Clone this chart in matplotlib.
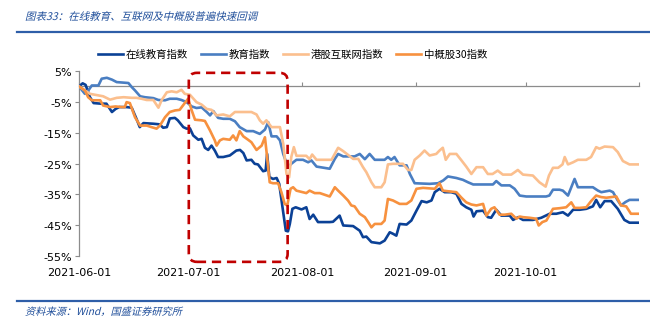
import numpy as np
import matplotlib
matplotlib.use("Agg")
from matplotlib import pyplot as plt
import matplotlib.dates as mdates
from matplotlib.patches import FancyBboxPatch, PathPatch
from matplotlib.lines import Line2D
from matplotlib.textpath import TextPath
from matplotlib.font_manager import FontProperties
from matplotlib.transforms import Affine2D, ScaledTranslation

plt.rcParams["font.family"] = ["DejaVu Sans", "Noto Sans CJK SC"]

# days since 2021-06-01 / index change in %
online_edu_days = [0, 1, 1.8, 3, 4, 6, 7.5, 9, 10, 11, 13, 14.4, 15.7, 16.6, 17.6, 20.3, 22, 23, 24, 24.8,
				   26.2, 27, 28.5, 29.4, 30.3, 31.2, 32.6, 33.5, 34.4, 35.3, 36.2, 37.1, 38, 39.4, 41.2, 43, 44,
				   44.9, 45.8, 47.1, 48, 48.9, 50.3, 51, 51.4, 52, 53, 54, 54.7, 55.6, 56.5, 57.1, 57.6, 58.3,
				   59.2, 60.8, 62.1, 63, 64, 65.3, 68.5, 69.4, 71.2, 72.2, 74.9, 76.7, 77.6, 78.5, 79.9, 82.2,
				   83.5, 84.9, 85.8, 86.7, 87.6, 89.5, 90.8, 92.2, 93.6, 95, 96.3, 97.2, 98.5, 99.9, 101.7, 103.1,
				   104.5, 105.8, 107.2, 107.8, 108.6, 110.4, 111.7, 112.6, 114, 115.4, 117.7, 118.6, 120, 121.3,
				   124, 126.3, 128.6, 130.4, 132.2, 133.6, 135, 136.8, 138.6, 140.4, 141.3, 142.4, 143.6, 145.4,
				   147.2, 149, 150.4, 152.7]
online_edu_vals = [0, 1, 0.5, -3.5, -5.4, -5.6, -5.6, -8.3, -7.3, -6.7, -6.7, -6.9, -10.5, -13.2, -11.9, -12.1,
				   -12.3, -13.4, -13.2, -10.4, -10.2, -11, -13.2, -13.7, -13.6, -15.9, -17.3, -17, -19.9, -20.6,
				   -19.2, -20.8, -22.9, -22.9, -22.4, -20.8, -20.6, -21.6, -24, -23.8, -25.1, -25.3, -27.5, -27.3,
				   -21.9, -29.4, -30, -29.7, -31.6, -39.2, -46.8, -47, -44.6, -39.7, -39.2, -39.9, -39.2, -43,
				   -41.6, -44, -44, -43.9, -41.9, -45.1, -45.3, -46.8, -48.9, -48.7, -50.5, -50.9, -50, -47.3,
				   -47.8, -48.4, -44.6, -44.8, -43.5, -40.3, -37.2, -37.6, -37, -34.3, -33.2, -34.3, -34.3, -34.8,
				   -38.1, -39.2, -40, -42.2, -40.5, -40.3, -42.4, -42.6, -40, -41.9, -41.9, -43.3, -42.4, -43.3,
				   -43.3, -42.6, -41.3, -41.3, -40.8, -41.9, -40, -40, -39.7, -38.9, -36.8, -39.2, -37.2, -37.2,
				   -39.7, -43.3, -44.2, -44.2]

edu_days = [0, 1.6, 2.5, 3.5, 5.3, 6.2, 7.6, 9, 10.3, 13.5, 14.4, 15.3, 16.7, 18, 20.3, 21.7, 23.5, 24.8, 26.7,
			28, 29.4, 30.8, 32.1, 33.5, 34.9, 35.8, 36.7, 38, 39.4, 41.2, 42.6, 43.9, 45.8, 47.6, 49.4, 50.8,
			51.7, 52.6, 54, 54.9, 55.8, 57.1, 58, 59.4, 61.2, 62.6, 63.5, 64.9, 68.5, 69.9, 70.8, 72.2, 75.3,
			76.7, 78.1, 79.4, 80.8, 83.5, 84.4, 85.3, 86.2, 87.6, 89.5, 90.4, 91.7, 95.8, 98.1, 99.5, 100.8,
			103.1, 104.9, 106.3, 107.7, 113.1, 114, 115.4, 117.7, 119, 120.4, 122.2, 127.6, 128.5, 129.5, 131.3,
			132.2, 133.6, 134.5, 135.4, 136.3, 138.6, 140.4, 141.8, 142.7, 145, 145.9, 147.2, 148.1, 149.3,
			150.4, 152.7]
edu_vals = [0, -2.4, -1.4, 0.3, 0.3, 2.5, 2.8, 2.2, 1.4, 1.1, -0.2, -1.3, -3.2, -3.5, -3.8, -4.4, -4.5, -4,
			-4, -4.4, -5.1, -6.5, -7, -6.8, -8.3, -9.4, -8, -10.2, -10.5, -10.5, -11.3, -13.2, -14.5, -14.5,
			-15.4, -14, -11.6, -16.2, -16.2, -17.5, -21.9, -26.2, -25.1, -23.8, -23.8, -24.6, -24, -26, -26.7,
			-23.5, -21.9, -22.7, -22.7, -21.9, -23.6, -21.9, -23.8, -23.8, -22.9, -23.8, -22.9, -25.6, -25.6,
			-28.4, -31.4, -31.6, -31.4, -30.5, -29.2, -29.7, -30.3, -31.1, -31.8, -31.8, -30.7, -32.1, -32.1,
			-33.2, -35.4, -35.7, -35.7, -35.4, -33.5, -33.5, -33.8, -35.4, -32.7, -30, -32.7, -32.7, -32.7,
			-33.8, -34.3, -33.8, -34.3, -37, -38.6, -37.5, -36.8, -36.8]

hk_net_days = [0, 1.6, 3, 4.8, 6.6, 8.5, 10.3, 12.2, 14.4, 15.7, 17.1, 18.5, 20.3, 21.7, 22.6, 24, 25.3, 26.7,
			   28, 28.9, 30.3, 32.1, 33.5, 34.9, 36.2, 37.6, 39.4, 41.2, 42.6, 44.9, 47.1, 48.5, 49.4, 50.3,
			   51.2, 52.6, 54, 54.9, 55.8, 56.7, 57.4, 58, 58.7, 59.4, 60.8, 62.1, 63, 63.7, 64.9, 69, 70.8,
			   72.2, 74.9, 76.3, 77.6, 78.5, 79.9, 80.8, 82.6, 83.5, 84.4, 85.8, 88.5, 89.9, 90.8, 91.7, 93.1,
			   94.4, 95.8, 97.6, 98.5, 99.4, 100.2, 101.3, 103.1, 104.5, 105.8, 107.2, 108.6, 110.4, 111.7, 113,
			   114.4, 115.8, 118.1, 119.9, 121.3, 124, 125.8, 127.5, 128.4, 129.5, 130.9, 132.1, 132.7, 133.6,
			   135, 136.3, 138.6, 139.9, 141.3, 142.2, 143.6, 145.9, 147.2, 148.6, 150.4, 152.7]
hk_net_vals = [0, -1.3, -2.4, -2.8, -3.2, -4.3, -3.7, -3.5, -3.7, -3.7, -4, -4.4, -4.4, -6.9, -4.4, -1.9,
			   -1.6, -1.9, -1.1, -2.4, -2.7, -5.1, -5.9, -7.3, -7.6, -9.4, -9.1, -9.7, -8.3, -8.3, -8.3, -9.1,
			   -11, -12.1, -11, -13.2, -13.2, -13.2, -18.6, -28.4, -29.5, -22.9, -19.7, -22.5, -22.5, -22.5,
			   -23.6, -22.1, -23.8, -23.8, -19.9, -21, -23.5, -23.5, -26.2, -27.8, -31.1, -32.7, -32.7, -31.1,
			   -25.3, -25.1, -25.1, -27.1, -27.1, -23.8, -22.4, -20.8, -22.4, -21.9, -20.8, -19.9, -23.8, -21.9,
			   -21.9, -24, -26, -28.4, -26.2, -26.2, -28.4, -28.4, -27.3, -28.6, -28.6, -27.1, -28.6, -28.9,
			   -31.1, -32.5, -28.9, -26.4, -26.4, -25.3, -22.9, -25.3, -24.6, -23.8, -23.8, -22.9, -19.7, -20.2,
			   -19.5, -19.7, -21.3, -24.2, -25.3, -25.3]

china30_days = [0, 1.6, 2.5, 3.5, 5.8, 6.6, 8.5, 10, 11.6, 12.5, 13, 13.9, 15.3, 16.7, 18.5, 19.8, 21.2, 22.1,
				23.5, 24.8, 26.2, 27.5, 28.9, 29.8, 30.8, 31.7, 33.5, 34.4, 35.8, 37.1, 37.6, 38.5, 39.4, 41.2,
				42.1, 43, 43.9, 44.9, 46.2, 47.1, 48.5, 49.9, 50.8, 51.2, 52.1, 53, 54.4, 55.3, 56.2, 56.9, 57.8,
				58.5, 59.4, 62.1, 63, 64.4, 65.8, 68.5, 69.9, 70.8, 72.2, 73.5, 74.4, 75.3, 76.7, 78.1, 79, 79.9,
				80.8, 82.6, 83.5, 84.4, 85.8, 87.6, 89.5, 90.8, 92.2, 94, 97.2, 98.5, 99.4, 100.8, 103.1, 104.5,
				105.8, 107.2, 108.6, 110.4, 111.3, 112.6, 113.5, 114.9, 116.3, 118.1, 119.5, 120.4, 121.3, 123.1,
				124.9, 125.6, 126.6, 127.7, 129.5, 131.3, 133.1, 134.5, 135.4, 136.8, 138.6, 139.9, 141.3, 142.7,
				144.1, 145.4, 146.8, 148.1, 149.5, 150.8, 152.7]
china30_vals = [0, -1.3, -3.5, -4.5, -4.5, -6.2, -6.7, -6.5, -6.7, -6.7, -5.1, -5.4, -10, -12.7, -12.7, -13.2,
				-13.7, -12.7, -10, -8.3, -7.8, -7.6, -5.4, -4, -7.8, -10.8, -11, -11.2, -14.3, -17.5, -19.2, -17.5,
				-17, -17.3, -15.9, -17.5, -14.5, -16.2, -17.3, -18.1, -20.6, -19.2, -16.5, -20.8, -31.1, -31.4,
				-31.4, -34.3, -38.1, -38.6, -33.2, -32.7, -33.8, -34.6, -33.8, -34.6, -34.6, -35.7, -32.7, -33.8,
				-35.4, -37, -38.6, -38.9, -41.3, -42.4, -44, -45.7, -44.6, -44.6, -43.5, -36.5, -37, -38.1, -38.1,
				-37, -33.2, -32.9, -33.2, -31.4, -33.8, -34, -34.3, -36.1, -37.6, -38.3, -38.6, -38.1, -41.9,
				-39.7, -39.2, -41.6, -41.6, -41.3, -42.9, -42.2, -42.4, -42.6, -42.9, -45.1, -44, -43.5, -39.7,
				-39.5, -39.2, -37.6, -39.4, -39.4, -39.2, -37.2, -35.4, -35.9, -36.1, -35.9, -35.7, -38.6, -38.9,
				-41.3, -41.3]

series_names = ["在线教育指数", "教育指数", "港股互联网指数", "中概股30指数"]
series_colors = ["#0B4196", "#4A7EC2", "#FBBF8E", "#F7913F"]

tick_dates = ["2021-06-01", "2021-07-01", "2021-08-01", "2021-09-01", "2021-10-01", "2021-11-01"]
tick_labels = ["2021-06-01", "2021-07-01", "2021-08-01", "2021-09-01", "2021-10-01", ""]
y_ticks = [5, -5, -15, -25, -35, -45, -55]

# highlighted window (red dashed box)
box_start, box_end = "2021-07-01", "2021-07-28"
box_top, box_bottom = 4.4, -56.9

title = "图表33：在线教育、互联网及中概股普遍快速回调"
source = "资料来源：Wind，国盛证券研究所"

W, H = 650, 327


def slanted_text(fig, x_px, y_px, s, size_px, color):
	# italic look: CJK fonts have no oblique face, so shear the glyph outlines
	tp = TextPath((0, 0), s, size=size_px, prop=FontProperties(family="Noto Sans CJK SC"))
	tr = Affine2D().skew_deg(14, 0).translate(x_px, H - y_px)
	patch = PathPatch(tp, facecolor=color, edgecolor="none", transform=tr)
	fig.add_artist(patch)


def main():
	base = mdates.datestr2num("2021-06-01")
	series = [(online_edu_days, online_edu_vals), (edu_days, edu_vals),
			  (hk_net_days, hk_net_vals), (china30_days, china30_vals)]

	fig = plt.figure(figsize=(W / 100, H / 100), dpi=100)
	ax = fig.add_axes([79 / W, 1 - 256 / H, 560 / W, 185 / H])

	draw_order = [2, 1, 3, 0]
	for i in draw_order:
		days, vals = series[i]
		ax.plot(base + np.array(days), vals, color=series_colors[i], lw=1.9,
				solid_joinstyle="round", zorder=3 + i)

	tick_x = [mdates.datestr2num(d) for d in tick_dates]
	ax.set_xlim(tick_x[0], tick_x[-1])
	ax.set_ylim(-55, 5)

	for s in ["top", "right"]:
		ax.spines[s].set_visible(False)
	ax.spines["bottom"].set_position(("data", 0))
	ax.spines["bottom"].set_color("#8C8C8C")
	ax.spines["left"].set_color("#8C8C8C")
	ax.spines["bottom"].set_linewidth(0.9)
	ax.spines["left"].set_linewidth(0.9)

	ax.set_xticks(tick_x)
	ax.set_xticklabels([])
	ax.tick_params(axis="x", direction="in", length=3, color="#8C8C8C")

	ax.set_yticks(y_ticks)
	ax.set_yticklabels(["{}%".format(v) for v in y_ticks], fontsize=8)
	ax.tick_params(axis="y", direction="out", length=3, color="#8C8C8C", pad=2)
	# labels sit a touch below their ticks in the reference
	shift = ScaledTranslation(0, -1 / 100, fig.dpi_scale_trans)
	for lbl in ax.get_yticklabels():
		lbl.set_transform(lbl.get_transform() + shift)

	sec = ax.secondary_xaxis("bottom")
	sec.set_xticks(tick_x)
	sec.set_xticklabels(tick_labels, fontsize=8)
	sec.tick_params(length=0, pad=9)
	sec.spines["bottom"].set_visible(False)

	# red dashed rounded box
	x0 = mdates.datestr2num(box_start)
	x1 = mdates.datestr2num(box_end)
	box = FancyBboxPatch((x0, box_bottom), x1 - x0, box_top - box_bottom,
						 boxstyle="round,pad=0,rounding_size=2.2", mutation_aspect=1.18,
						 fill=False, edgecolor="#C00000", lw=1.9,
						 linestyle=(0, (3.5, 2.2)), clip_on=False, zorder=10)
	ax.add_patch(box)

	handles = [Line2D([], [], color=c, lw=1.9) for c in series_colors]
	fig.legend(handles, series_names, loc="center", bbox_to_anchor=(0.45, 1 - 55 / H),
			   ncol=4, frameon=False, handlelength=2.4, handletextpad=0.3,
			   columnspacing=1.2, prop={"family": ["Noto Sans CJK SC", "DejaVu Sans"], "size": 7.5})

	slanted_text(fig, 25, 20, title, 10.5, "#1F4E9A")
	fig.add_artist(Line2D([17 / W, 1.0], [1 - 32 / H] * 2, color="#2E5EA8", lw=1.6))
	fig.add_artist(Line2D([17 / W, 1.0], [1 - 301 / H] * 2, color="#2E5EA8", lw=1.6))
	slanted_text(fig, 25, 315, source, 10.2, "#1F4E9A")

	fig.savefig("out.png", dpi=100)
	return 0


if __name__ == "__main__":
	exit(main())
